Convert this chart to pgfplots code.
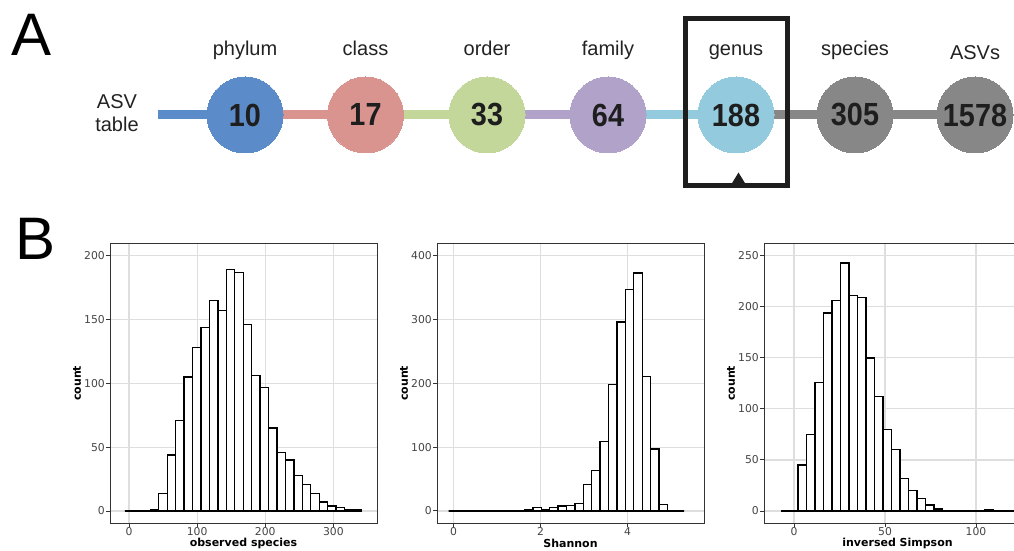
\documentclass[border=0pt]{standalone}
\usepackage{fontspec}
\setmainfont{Liberation Sans}
\newfontfamily\dejavu{DejaVu Sans}
\usepackage{pgfplots}
\pgfplotsset{compat=1.18}
\definecolor{cA}{HTML}{5B8BC9}
\definecolor{cB}{HTML}{D9948F}
\definecolor{cC}{HTML}{C3D79B}
\definecolor{cD}{HTML}{B0A2C9}
\definecolor{cE}{HTML}{93CADD}
\definecolor{cF}{HTML}{878787}
\definecolor{numc}{HTML}{1E1E1E}
\definecolor{labc}{HTML}{222222}
\definecolor{gridc}{HTML}{DEDEDE}
\definecolor{framec}{HTML}{333333}
\definecolor{tickc}{HTML}{444444}
\pgfplotsset{
  histo/.style={
    scale only axis, width=267pt, height=280pt, anchor=south west,
    grid=major, major grid style={draw=gridc, line width=1.1pt},
    axis line style={draw=framec, line width=1pt},
    tick style={draw=framec, line width=1pt},
    tick align=outside, tick pos=left, major tick length=4pt,
    ticklabel style={font=\dejavu\fontsize{10.8}{11}\selectfont, text=tickc, inner sep=1pt},
    xticklabel style={yshift=1pt},
    /pgf/number format/assume math mode=true,
    label style={font=\dejavu\bfseries\fontsize{11}{11}\selectfont},
    ylabel={count},
    ylabel style={at={(axis description cs:-0.1236,0.5)}, anchor=center},
    xlabel style={at={(axis description cs:0.5,-0.0716)}, anchor=center},
  },
  hbar/.style={ybar interval, draw=black, fill=white, line width=1.3pt},
  circ/.style={only marks, color=#1, mark=*, mark size=38pt, mark options={draw=#1, fill=#1, line width=0pt},
    nodes near coords={\scalebox{0.9}[1]{\pgfplotspointmeta}}, point meta=explicit symbolic,
    every node near coord/.append style={anchor=center, inner sep=0pt, text=numc,
      font=\bfseries\fontsize{32}{32}\selectfont}},
  seg/.style={line width=9pt, draw=#1, no marks},
}
\begin{document}
\begin{tikzpicture}
\useasboundingbox (0pt,0pt) rectangle (1014pt,551pt);
% ---------------- Panel A ----------------
\begin{axis}[at={(0pt,0pt)}, anchor=south west, scale only axis, width=1014pt, height=551pt,
  xmin=0, xmax=1014, ymin=0, ymax=551, hide axis, clip=false]
\addplot[seg=cA] coordinates {(158,436)(245,436)};
\addplot[seg=cB] coordinates {(245,436)(365.5,436)};
\addplot[seg=cC] coordinates {(365.5,436)(487,436)};
\addplot[seg=cD] coordinates {(487,436)(608,436)};
\addplot[seg=cE] coordinates {(608,436)(736,436)};
\addplot[seg=cF] coordinates {(736,436)(855,436)};
\addplot[seg=cF] coordinates {(855,436)(975,436)};
\addplot[circ=cA] coordinates {(245,436) [10]};
\addplot[circ=cB] coordinates {(365.5,436) [17]};
\addplot[circ=cC] coordinates {(487,436) [33]};
\addplot[circ=cD] coordinates {(608,436) [64]};
\addplot[circ=cE] coordinates {(736,436) [188]};
\addplot[circ=cF] coordinates {(855,436) [305]};
\addplot[circ=cF] coordinates {(975,436) [1578]};
\addplot[line width=5pt, draw=numc, no marks, line join=miter] coordinates {(685.3,532.5)(787.5,532.5)(787.5,365)(685.3,365)} --cycle;
\addplot[fill=numc, draw=none, no marks] coordinates {(731.5,367)(745.5,367)(738.5,378.5)} --cycle;
\begin{scope}[every node/.style={font=\fontsize{20}{20}\selectfont, anchor=base, text=labc, inner sep=0pt}]
\node at (axis cs:245,495) {phylum};
\node at (axis cs:365.5,495) {class};
\node at (axis cs:487,495) {order};
\node at (axis cs:608,495) {family};
\node at (axis cs:736,495) {genus};
\node at (axis cs:855,495) {species};
\node at (axis cs:975,491) {ASVs};
\node at (axis cs:117,442) {ASV};
\node at (axis cs:117,419) {table};
\end{scope}
\node[font=\fontsize{60}{60}\selectfont, anchor=base west, inner sep=0pt, text=black] at (axis cs:11,495) {A};
\node[font=\fontsize{60}{60}\selectfont, anchor=base west, inner sep=0pt, text=black] at (axis cs:15,291) {B};
\end{axis}
% ---------------- Panel B1 ----------------
\begin{axis}[histo, at={(110pt,27.7pt)}, xmin=-27.9, xmax=364, ymin=-9.6, ymax=209.7,
  xtick={0,100,200,300}, ytick={0,50,100,150,200}, xlabel={observed species}]
\addplot[hbar] coordinates {
(-6,0)(6.4,0)(18.8,0)(31.2,1)(43.6,14)(56,44)(68.4,71)(80.8,105)(93.2,128)(105.6,144)
(118,165)(130.4,157)(142.8,189)(155.2,187)(167.6,146)(180,106)(192.4,97)(204.8,65)
(217.2,46)(229.6,40)(242,28)(254.4,21)(266.8,14)(279.2,7)(291.6,4)(304,3)(316.4,1)
(328.8,1)(341.2,0)};
\end{axis}
% ---------------- Panel B2 ----------------
\begin{axis}[histo, at={(437pt,27.7pt)}, xmin=-0.38, xmax=5.76, ymin=-19.3, ymax=419.4,
  xtick={0,2,4}, ytick={0,100,200,300,400}, xlabel={Shannon}]
\addplot[hbar] coordinates {
(-0.110,0)(0.0834,0)(0.2768,0)(0.4702,0)(0.6636,0)(0.8570,0)(1.0504,0)(1.2438,0)(1.4372,0)
(1.6306,2)(1.8240,5)(2.0174,2)(2.2108,6)(2.4042,8)(2.5976,9)(2.7910,12)(2.9844,42)
(3.1778,63)(3.3712,109)(3.5646,198)(3.7580,296)(3.9514,347)(4.1448,373)(4.3382,211)
(4.5316,97)(4.7250,10)(4.9184,1)(5.1118,0)(5.3052,0)};
\end{axis}
% ---------------- Panel B3 ----------------
\begin{axis}[histo, at={(764pt,27.7pt)}, xmin=-16.5, xmax=130.2, ymin=-12.0, ymax=262.2,
  xtick={0,50,100}, ytick={0,50,100,150,200,250}, xlabel={inversed Simpson}]
\addplot[hbar] coordinates {
(-7.13,0)(-2.465,0)(2.2,45)(6.865,75)(11.53,126)(16.195,194)(20.86,206)(25.525,243)
(30.19,211)(34.855,209)(39.52,150)(44.185,112)(48.85,80)(53.515,60)(58.18,32)
(62.845,20)(67.51,12)(72.175,6)(76.84,2)(81.505,0)(86.17,0)(90.835,0)(95.5,0)
(100.165,0)(104.83,1)(109.495,0)(114.16,0)(118.825,0)(123.49,0)(128.155,0)};
\end{axis}
\end{tikzpicture}
\end{document}
